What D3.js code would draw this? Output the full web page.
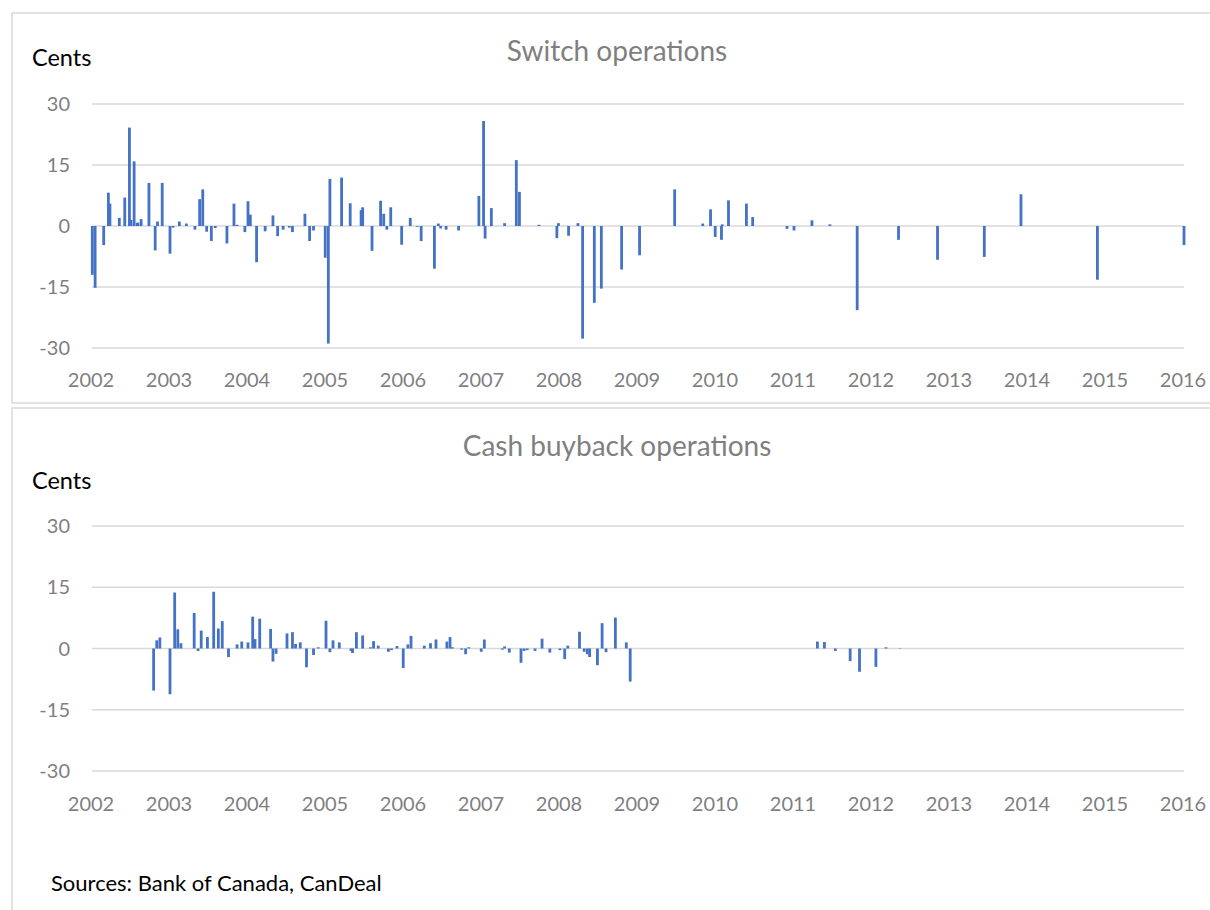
<!DOCTYPE html>
<html lang="en">
<head>
<meta charset="UTF-8">
<title>Switch and cash buyback operations</title>
<script src="https://d3js.org/d3.v7.min.js"></script>
<style>
  body { margin: 0; background: #fff; }
  text { font-family: Lato, "Open Sans", sans-serif; }
</style>
</head>
<body>
<div id="chart"></div>
<script>
// years on the x axis
var yearTicks = [2002, 2003, 2004, 2005, 2006, 2007, 2008, 2009, 2010, 2011, 2012, 2013, 2014, 2015, 2016];
var centTicks = [30, 15, 0, -15, -30];

// switch operations: date (decimal year) and cents
var switchDates = [2002.004, 2002.04, 2002.15, 2002.21, 2002.23, 2002.35, 2002.42, 2002.48, 2002.50, 2002.54,
    2002.58, 2002.59, 2002.63, 2002.73, 2002.81, 2002.84, 2002.90, 2003.00, 2003.04, 2003.12,
    2003.21, 2003.32, 2003.38, 2003.42, 2003.47, 2003.53, 2003.58, 2003.73, 2003.82, 2003.86,
    2003.96, 2004.00, 2004.03, 2004.11, 2004.22, 2004.32, 2004.38, 2004.45, 2004.53, 2004.57,
    2004.73, 2004.79, 2004.84, 2004.99, 2005.03, 2005.05, 2005.20, 2005.31, 2005.45, 2005.47,
    2005.59, 2005.70, 2005.74, 2005.78, 2005.83, 2005.97, 2006.08, 2006.17, 2006.22, 2006.39,
    2006.44, 2006.47, 2006.54, 2006.70, 2006.96, 2007.02, 2007.04, 2007.12, 2007.29, 2007.44,
    2007.48, 2007.73, 2007.96, 2007.98, 2008.11, 2008.23, 2008.29, 2008.44, 2008.53, 2008.79,
    2009.02, 2009.47, 2009.83, 2009.93, 2009.99, 2010.07, 2010.08, 2010.16, 2010.39, 2010.47,
    2010.91, 2011.00, 2011.23, 2011.46, 2011.81, 2012.34, 2012.84, 2013.44, 2013.91, 2014.89,
    2016.00];
var switchCents = [-12.0, -15.2, -4.7, 8.2, 5.5, 2.0, 7.0, 24.2, 1.5, 15.9,
    0.8, 0.8, 1.7, 10.6, -6.0, 1.1, 10.6, -6.8, -0.4, 1.1,
    0.6, -0.9, 6.6, 9.0, -1.4, -3.7, -0.5, -4.3, 5.5, 0.3,
    -1.5, 6.1, 2.8, -8.9, -1.3, 2.6, -2.5, -0.9, -0.4, -1.5,
    3.0, -3.7, -1.1, -7.8, -28.9, 11.6, 11.9, 5.6, 3.9, 4.6,
    -6.1, 6.2, 3.0, -0.9, 4.6, -4.6, 2.0, -0.2, -3.7, -10.5,
    0.6, -0.6, -0.9, -1.1, 7.4, 25.8, -3.1, 4.4, 0.7, 16.2,
    8.4, 0.3, -3.0, 0.7, -2.4, 0.7, -27.7, -18.9, -15.4, -10.7,
    -7.2, 9.0, 0.6, 4.1, -2.7, -3.4, 0.4, 6.3, 5.5, 2.2,
    -0.7, -1.1, 1.4, 0.4, -20.7, -3.4, -8.3, -7.6, 7.8, -13.2,
    -4.7];

// cash buyback operations
var buybackDates = [2002.79, 2002.83, 2002.87, 2003.00, 2003.06, 2003.10, 2003.14, 2003.31, 2003.36, 2003.40,
    2003.48, 2003.56, 2003.62, 2003.67, 2003.75, 2003.86, 2003.92, 2004.00, 2004.06, 2004.09,
    2004.15, 2004.29, 2004.32, 2004.36, 2004.50, 2004.57, 2004.61, 2004.67, 2004.75, 2004.84,
    2004.90, 2005.00, 2005.05, 2005.09, 2005.17, 2005.32, 2005.34, 2005.39, 2005.47, 2005.57,
    2005.61, 2005.67, 2005.80, 2005.84, 2005.91, 2005.99, 2006.05, 2006.09, 2006.26, 2006.34,
    2006.41, 2006.55, 2006.59, 2006.62, 2006.74, 2006.79, 2006.83, 2006.99, 2007.03, 2007.26,
    2007.29, 2007.35, 2007.50, 2007.54, 2007.58, 2007.68, 2007.77, 2007.87, 2008.00, 2008.06,
    2008.10, 2008.25, 2008.31, 2008.35, 2008.38, 2008.48, 2008.54, 2008.59, 2008.71, 2008.85,
    2008.90, 2011.30, 2011.39, 2011.53, 2011.72, 2011.84, 2012.05, 2012.18, 2012.36];
var buybackCents = [-10.3, 2.0, 2.7, -11.2, 13.7, 4.7, 1.3, 8.7, -0.6, 4.4,
    2.8, 13.9, 4.9, 6.7, -2.1, 1.0, 1.7, 1.5, 7.8, 2.3,
    7.3, 4.8, -3.2, -1.3, 3.7, 4.0, 1.1, 1.5, -4.6, -1.6,
    0.3, 6.8, -0.9, 2.0, 1.5, -0.6, -1.1, 4.0, 3.2, 0.3,
    1.8, 0.7, -0.8, -0.4, 0.6, -4.8, 1.0, 3.1, 0.7, 1.3,
    2.2, 1.7, 2.8, 0.3, -0.3, -1.4, 0.3, -0.8, 2.2, -0.3,
    0.5, -1.0, -3.5, -0.6, -0.4, -0.6, 2.4, -1.0, -0.4, -2.6,
    0.7, 4.1, -0.8, -1.4, -2.1, -4.1, 6.2, -0.9, 7.6, 1.5,
    -8.1, 1.7, 1.6, -0.6, -3.1, -5.7, -4.5, 0.3, 0.1];

var width = 1210, height = 910;
var barColor = "#4472c4", gridColor = "#d9d9d9", labelColor = "#7f7f7f";

var svg = d3.select("#chart").append("svg")
    .attr("width", width)
    .attr("height", height);

var x = d3.scaleLinear().domain([2002, 2016]).range([92, 1184]);

// panel frames
svg.append("rect").attr("x", 12).attr("y", 13).attr("width", 1215).attr("height", 390)
    .attr("fill", "none").attr("stroke", gridColor).attr("stroke-width", 1.5);
svg.append("rect").attr("x", 12).attr("y", 408).attr("width", 1215).attr("height", 520)
    .attr("fill", "none").attr("stroke", gridColor).attr("stroke-width", 1.5);

function drawPanel(title, titleY, centsY, top, bottom, yearY, dates, cents) {
    var y = d3.scaleLinear().domain([-30, 30]).range([bottom, top]);
    var g = svg.append("g");

    g.append("text")
        .attr("x", 617).attr("y", titleY)
        .attr("text-anchor", "middle")
        .attr("fill", labelColor)
        .style("font-size", "28px")
        .text(title);

    g.append("text")
        .attr("x", 32).attr("y", centsY)
        .attr("fill", "#000")
        .style("font-size", "23.5px")
        .text("Cents");

    // gridlines
    g.selectAll(".grid").data(centTicks).enter().append("line")
        .attr("x1", x(2002)).attr("x2", x(2016))
        .attr("y1", function (d) { return y(d); })
        .attr("y2", function (d) { return y(d); })
        .attr("stroke", gridColor).attr("stroke-width", 1.5);

    g.selectAll(".ylab").data(centTicks).enter().append("text")
        .attr("x", 70)
        .attr("y", function (d) { return y(d) + 7; })
        .attr("text-anchor", "end")
        .attr("fill", labelColor)
        .style("font-size", "20px")
        .text(function (d) { return d; });

    g.selectAll(".xlab").data(yearTicks).enter().append("text")
        .attr("x", function (d) { return x(d) - 1; })
        .attr("y", yearY)
        .attr("text-anchor", "middle")
        .attr("fill", labelColor)
        .style("font-size", "20px")
        .text(function (d) { return d; });

    g.selectAll(".bar").data(dates).enter().append("rect")
        .attr("x", function (d) { return x(d) - 1.4; })
        .attr("width", 2.8)
        .attr("y", function (d, i) { return Math.min(y(cents[i]), y(0)); })
        .attr("height", function (d, i) { return Math.abs(y(cents[i]) - y(0)); })
        .attr("fill", barColor);
}

drawPanel("Switch operations", 61, 66, 104, 348, 387, switchDates, switchCents);
drawPanel("Cash buyback operations", 456, 489, 526, 771, 811, buybackDates, buybackCents);

svg.append("text")
    .attr("x", 51).attr("y", 891)
    .attr("fill", "#000")
    .style("font-size", "22px")
    .text("Sources: Bank of Canada, CanDeal");
</script>
</body>
</html>
